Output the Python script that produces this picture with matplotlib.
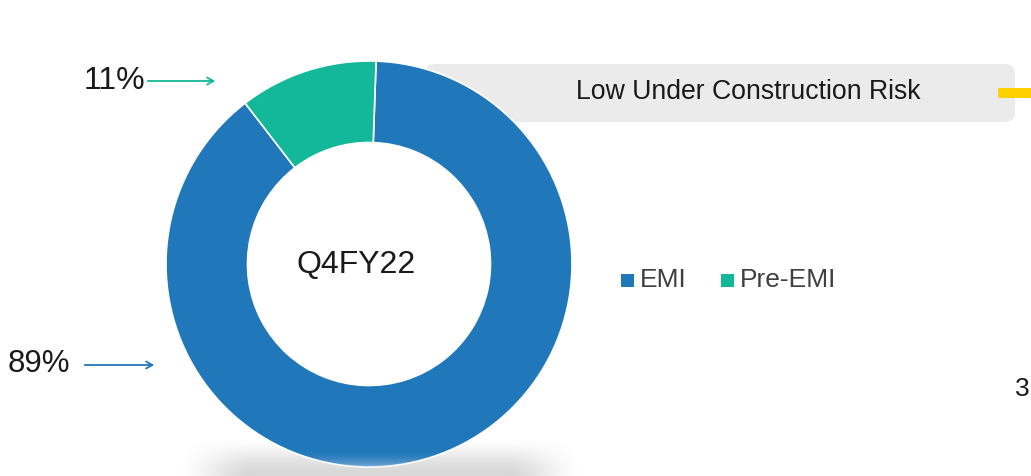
import numpy as np
import matplotlib
matplotlib.use("Agg")
import matplotlib.pyplot as plt
from matplotlib.patches import FancyBboxPatch, Rectangle

plt.rcParams['font.family'] = ['Liberation Sans', 'DejaVu Sans']

# ---- data ----
categories = ["EMI", "Pre-EMI"]
shares = [89, 11]
pct_labels = ["89%", "11%"]
center_label = "Q4FY22"
banner_text = "Low Under Construction Risk"
page_no = "3"

colors = ["#2077b9", "#12b899"]
text_dark = "#1a1a1a"
legend_text = "#404040"

W, H = 1031, 476
fig = plt.figure(figsize=(W / 100, H / 100), dpi=100)
ax = fig.add_axes([0, 0, 1, 1])

def Y(py):
    return H - py

# banner
box = FancyBboxPatch((425, Y(122)), 590, 58, boxstyle="round,pad=0,rounding_size=10",
                     facecolor="#ebebeb", edgecolor="none", zorder=1)
ax.add_patch(box)
ax.text(748, Y(92), banner_text, fontsize=19.2, color=text_dark, ha="center", va="center", zorder=2)
dash = FancyBboxPatch((998, Y(98)), 40, 10, boxstyle="round,pad=0,rounding_size=2",
                      facecolor="#ffd000", edgecolor="none", zorder=2)
ax.add_patch(dash)

# donut
cx, cy, R, w = 369, Y(264), 203, 81.5
wedges, _ = ax.pie(shares, colors=colors, startangle=127.6, counterclock=True,
                   center=(cx, cy), radius=R, frame=True,
                   wedgeprops=dict(width=w, edgecolor="white", linewidth=1.2))
for wd in wedges:
    wd.set_zorder(3)
ax.set_xlim(0, W)
ax.set_ylim(0, H)
ax.axis("off")

# soft shadow under donut (pixel rows ~440..476)
x0, x1 = 160, 600
y_top, y_bot = 436, 476
xs = np.linspace(x0, x1, 400)
ys = np.linspace(y_bot, y_top, 80)  # bottom -> top (origin lower)
XX, YY = np.meshgrid(xs, ys)
t = np.clip((np.abs(XX - 380) - 125) / 80, 0, 1)
hprof = 1 - (3 * t ** 2 - 2 * t ** 3)
v = np.clip((YY - y_top) / (y_bot - y_top), 0, 1)
vprof = 3 * v ** 2 - 2 * v ** 3
alpha = hprof * vprof * 0.28
img = np.zeros(XX.shape + (4,))
img[..., :3] = 0.45
img[..., 3] = alpha
ax.imshow(img, extent=(x0, x1, Y(y_bot), Y(y_top)), origin="lower", zorder=1.5, aspect="auto",
          interpolation="bilinear")

# lighter bottom highlight on the donut
n = 100
g = np.linspace(1, 0, n)[:, None] * np.ones((1, 10))   # row 0 (bottom) strongest
gimg = np.zeros(g.shape + (4,))
gimg[..., :3] = [0.85, 0.9, 0.95]
gimg[..., 3] = g ** 2.2 * 0.55
gi = ax.imshow(gimg, extent=(cx - R, cx + R, Y(468), Y(448)), origin="lower", zorder=3.5,
               aspect="auto", interpolation="bilinear")
gi.set_clip_path(wedges[0])
ax.set_xlim(0, W)
ax.set_ylim(0, H)

ax.text(356, Y(265), center_label, fontsize=23, color=text_dark, ha="center", va="center", zorder=4)

# percentage callouts
ax.text(114, Y(81), pct_labels[1], fontsize=23, color=text_dark, ha="center", va="center")
ax.annotate("", xy=(218, Y(81)), xytext=(145, Y(81)),
            arrowprops=dict(arrowstyle="->,head_length=0.45,head_width=0.25", color=colors[1], lw=1.3))
ax.text(39, Y(364), pct_labels[0], fontsize=22.5, color=text_dark, ha="center", va="center")
ax.annotate("", xy=(157, Y(365)), xytext=(82, Y(365)),
            arrowprops=dict(arrowstyle="->,head_length=0.45,head_width=0.25", color=colors[0], lw=1.3))

# legend
leg_x = [621, 721]
for i, cat in enumerate(categories):
    ax.add_patch(Rectangle((leg_x[i], Y(287)), 13, 13, facecolor=colors[i], edgecolor="none"))
    ax.text(leg_x[i] + 19, Y(280), cat, fontsize=19, color=legend_text, ha="left", va="center")

ax.text(1022, Y(389), page_no, fontsize=19, color=text_dark, ha="center", va="center")

fig.savefig("out.png", dpi=100)
